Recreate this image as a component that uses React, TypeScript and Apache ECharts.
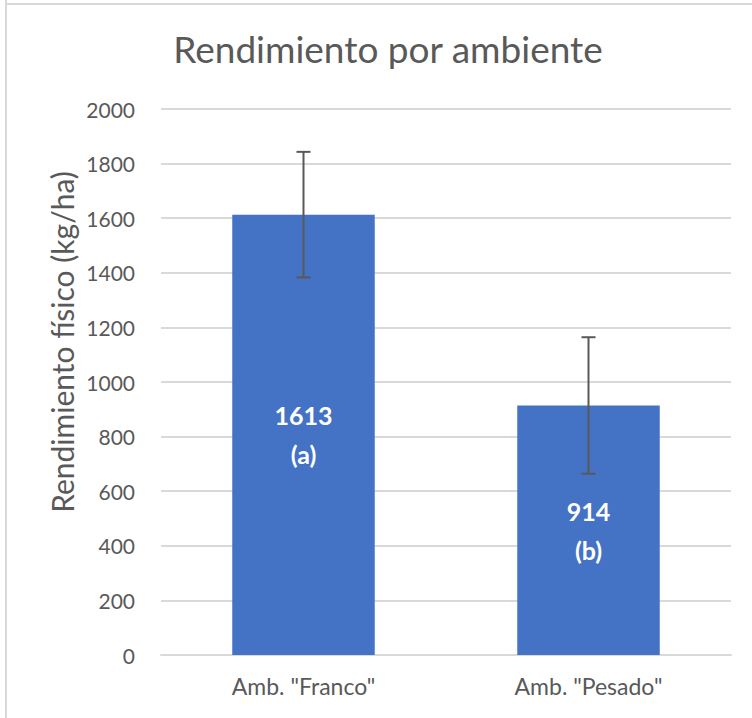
import React, { useEffect, useRef } from "react";
import * as echarts from "echarts";

const categories = ['Amb. "Franco"', 'Amb. "Pesado"'];
const yieldValues = [1613, 914];
const errorValues = [230, 250];
const groupLetters = ["(a)", "(b)"];
const yTicks = { min: 0, max: 2000, interval: 200 };

const FONT = "Lato, 'Open Sans', sans-serif";
const GREY = "#595959";

export default function App() {
  const ref = useRef<HTMLDivElement>(null);
  useEffect(() => {
    document.body.style.margin = "0";
    if (!ref.current) return;
    const chart = echarts.init(ref.current, undefined, { renderer: "svg" });
    const errData = yieldValues.map((v, i) => [i, v - errorValues[i], v + errorValues[i]]);
    chart.setOption({
      animation: false,
      backgroundColor: "#ffffff",
      title: {
        text: "Rendimiento por ambiente",
        left: 383,
        textAlign: "center",
        top: 25,
        textStyle: { fontFamily: FONT, fontSize: 37, fontWeight: "normal", color: GREY },
      },
      grid: { left: 161, right: 21, top: 109, bottom: 63, containLabel: false },
      xAxis: {
        type: "category",
        data: categories,
        axisLine: { show: true, lineStyle: { color: "#d9d9d9", width: 2 } },
        axisTick: { show: false },
        axisLabel: { fontFamily: FONT, fontSize: 23, color: GREY, margin: 19 },
      },
      yAxis: {
        type: "value",
        min: yTicks.min,
        max: yTicks.max,
        interval: yTicks.interval,
        axisLine: { show: false },
        axisTick: { show: false },
        splitLine: { lineStyle: { color: "#d9d9d9", width: 2 } },
        axisLabel: {
          fontFamily: FONT,
          fontSize: 21,
          color: GREY,
          margin: 26,
          formatter: (v: number) => String(v),
        },
      },
      graphic: [
        { type: "line", shape: { x1: 6, y1: 0, x2: 6, y2: 718 }, style: { stroke: "#d9d9d9", lineWidth: 2 } },
        { type: "line", shape: { x1: 6, y1: 4, x2: 752, y2: 4 }, style: { stroke: "#d9d9d9", lineWidth: 2 } },
        {
          type: "text",
          x: 62,
          y: 342,
          rotation: Math.PI / 2,
          style: {
            text: "Rendimiento físico (kg/ha)",
            fontFamily: FONT,
            fontSize: 30,
            fill: GREY,
            align: "center",
            verticalAlign: "middle",
          },
        },
      ],
      series: [
        {
          type: "bar",
          data: yieldValues,
          barWidth: "50%",
          itemStyle: { color: "#4472C4" },
          label: {
            show: true,
            position: "inside",
            formatter: (p: any) => `${p.value}\n${groupLetters[p.dataIndex]}`,
            fontFamily: FONT,
            fontSize: 25,
            fontWeight: "bold",
            color: "#ffffff",
            lineHeight: 39,
          },
        },
        {
          type: "custom",
          data: errData,
          z: 10,
          renderItem: (params: any, api: any) => {
            const idx = api.value(0);
            const lo = api.coord([idx, api.value(1)]);
            const hi = api.coord([idx, api.value(2)]);
            const hw = 7;
            const style = { stroke: GREY, lineWidth: 2 };
            return {
              type: "group",
              children: [
                { type: "line", shape: { x1: hi[0], y1: hi[1], x2: lo[0], y2: lo[1] }, style },
                { type: "line", shape: { x1: hi[0] - hw, y1: hi[1], x2: hi[0] + hw, y2: hi[1] }, style },
                { type: "line", shape: { x1: lo[0] - hw, y1: lo[1], x2: lo[0] + hw, y2: lo[1] }, style },
              ],
            };
          },
        },
      ],
    });
    return () => chart.dispose();
  }, []);
  return <div ref={ref} style={{ width: 752, height: 718 }} />;
}
